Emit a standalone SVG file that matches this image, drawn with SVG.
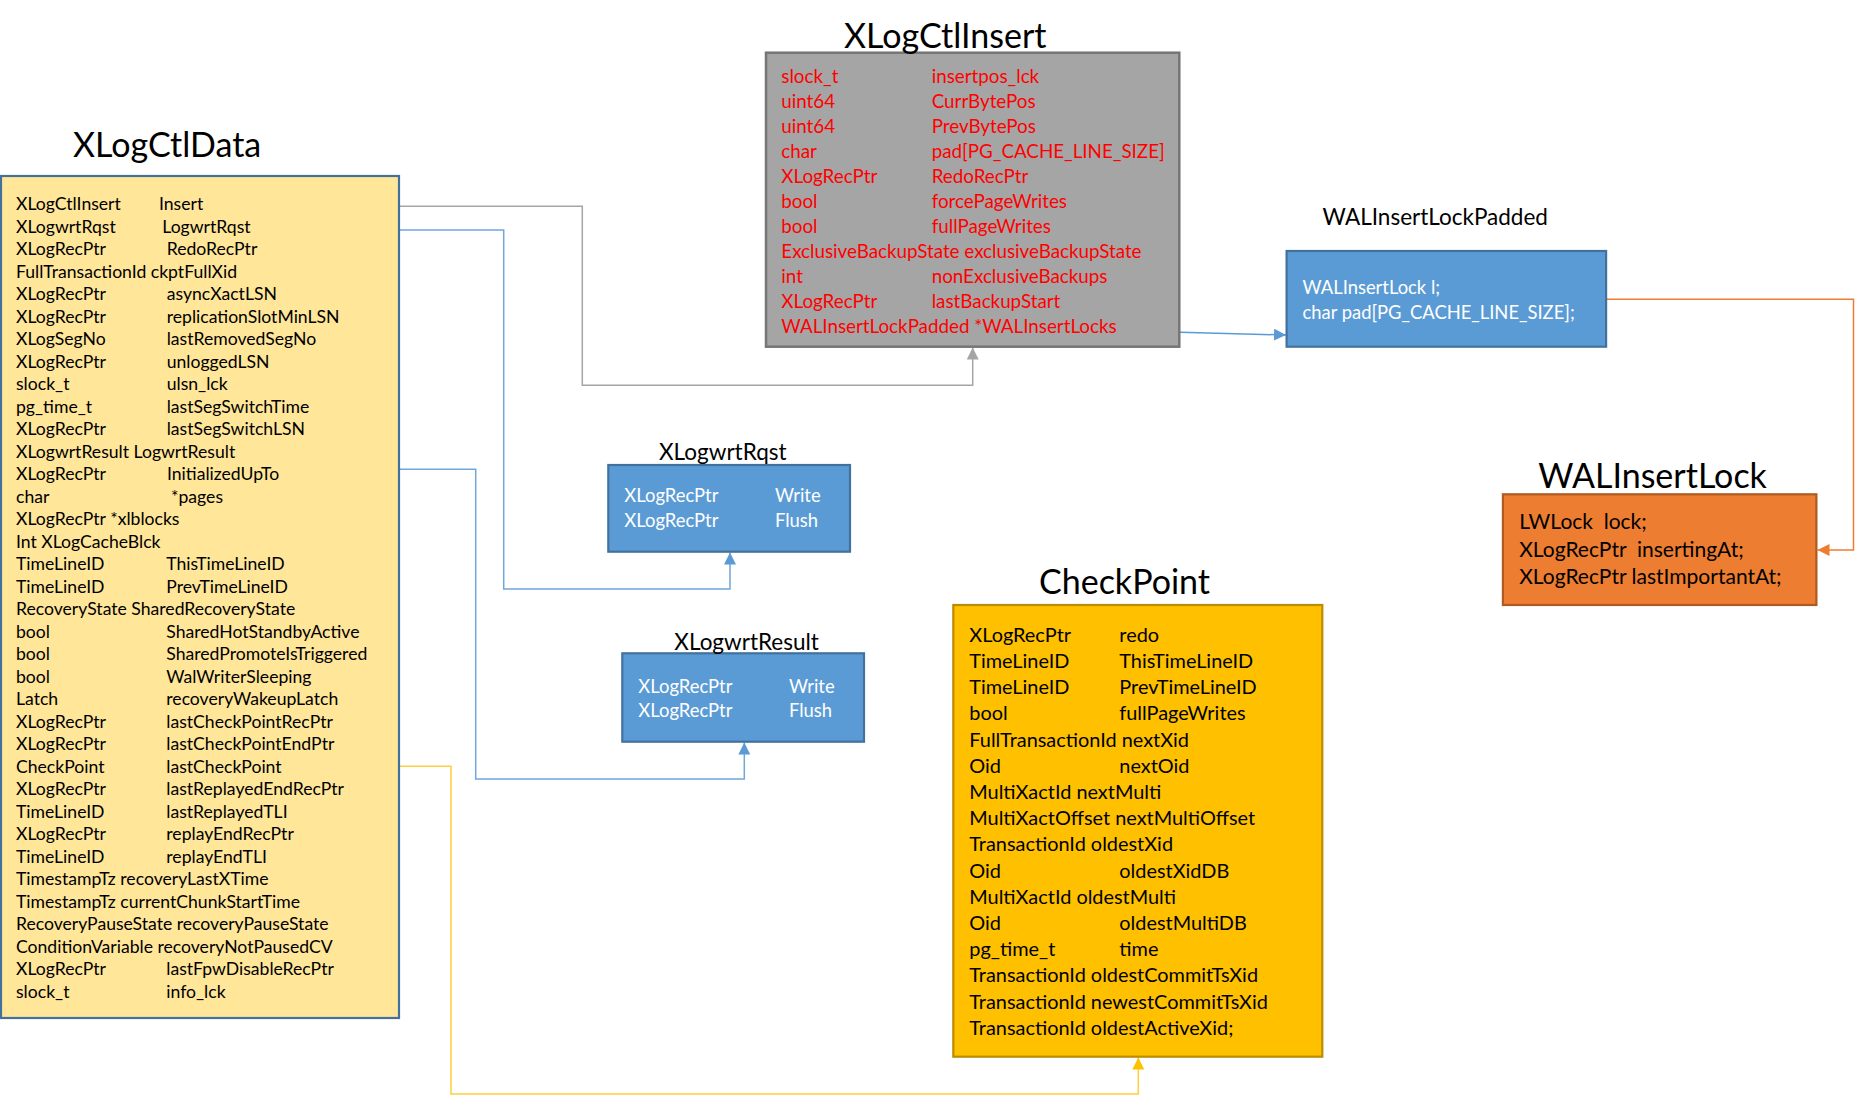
<svg xmlns="http://www.w3.org/2000/svg" width="1855" height="1096" viewBox="0 0 1855 1096">
<style>
text{font-family:Lato,"Liberation Sans",sans-serif;white-space:pre}
.title{font-size:34px;fill:#000}
.sub{font-size:22.5px;fill:#000}
.d{font-size:17.6px;fill:#000}
.r{font-size:18.8px;fill:#FF0000}
.w{font-size:18.4px;fill:#FFFFFF}
.c{font-size:19.9px;fill:#000}
.o{font-size:21px;fill:#000}
.conn{fill:none;stroke-width:1.5}
</style>
<defs>
<marker id="aGray" viewBox="0 0 12 12" refX="12" refY="6" markerWidth="12" markerHeight="12" markerUnits="userSpaceOnUse" orient="auto"><path d="M0,0 L12,6 L0,12 z" fill="#A5A5A5"/></marker>
<marker id="aBlue" viewBox="0 0 12 12" refX="12" refY="6" markerWidth="12" markerHeight="12" markerUnits="userSpaceOnUse" orient="auto"><path d="M0,0 L12,6 L0,12 z" fill="#5B9BD5"/></marker>
<marker id="aYel" viewBox="0 0 12 12" refX="12" refY="6" markerWidth="12" markerHeight="12" markerUnits="userSpaceOnUse" orient="auto"><path d="M0,0 L12,6 L0,12 z" fill="#FFC000"/></marker>
<marker id="aOr" viewBox="0 0 12 12" refX="12" refY="6" markerWidth="12" markerHeight="12" markerUnits="userSpaceOnUse" orient="auto"><path d="M0,0 L12,6 L0,12 z" fill="#ED7D31"/></marker>
</defs>
<rect width="1855" height="1096" fill="#FFFFFF"/>

<g id="connectors">
<path class="conn" d="M399,206.3 H582.3 V385.3 H972.7 V347.5" stroke="#A5A5A5" marker-end="url(#aGray)"/>
<path class="conn" d="M399,230 H503.7 V589 H730 V552.5" stroke="#6FA7DB" marker-end="url(#aBlue)"/>
<path class="conn" d="M399,469.3 H475.7 V779 H744.3 V742.5" stroke="#6FA7DB" marker-end="url(#aBlue)"/>
<path class="conn" d="M399,766.3 H451 V1094 H1138.3 V1057.5" stroke="#FFCF40" marker-end="url(#aYel)"/>
<path class="conn" d="M1180,332.3 L1286,335" stroke="#5B9BD5" marker-end="url(#aBlue)"/>
<path class="conn" d="M1607,299.3 H1853.5 V550 H1817.5" stroke="#ED7D31" marker-end="url(#aOr)"/>
</g>

<g id="XLogCtlData">
<rect x="1" y="176" width="398" height="842" fill="#FFE699" stroke="#41719C" stroke-width="2.2"/>
<text class="title" x="73" y="157">XLogCtlData</text>
<text class="d" x="16" y="210">XLogCtlInsert</text><text class="d" x="159" y="210">Insert</text>
<text class="d" x="16" y="232.5">XLogwrtRqst</text><text class="d" x="162.3" y="232.5">LogwrtRqst</text>
<text class="d" x="16" y="255">XLogRecPtr</text><text class="d" x="166.7" y="255">RedoRecPtr</text>
<text class="d" x="16" y="277.5">FullTransactionId ckptFullXid</text>
<text class="d" x="16" y="300">XLogRecPtr</text><text class="d" x="166.7" y="300">asyncXactLSN</text>
<text class="d" x="16" y="322.5">XLogRecPtr</text><text class="d" x="166.7" y="322.5">replicationSlotMinLSN</text>
<text class="d" x="16" y="345">XLogSegNo</text><text class="d" x="166.7" y="345">lastRemovedSegNo</text>
<text class="d" x="16" y="367.5">XLogRecPtr</text><text class="d" x="166.7" y="367.5">unloggedLSN</text>
<text class="d" x="16" y="390">slock_t</text><text class="d" x="166.7" y="390">ulsn_lck</text>
<text class="d" x="16" y="412.5">pg_time_t</text><text class="d" x="166.7" y="412.5">lastSegSwitchTime</text>
<text class="d" x="16" y="435">XLogRecPtr</text><text class="d" x="166.7" y="435">lastSegSwitchLSN</text>
<text class="d" x="16" y="457.5">XLogwrtResult LogwrtResult</text>
<text class="d" x="16" y="480">XLogRecPtr</text><text class="d" x="167" y="480">InitializedUpTo</text>
<text class="d" x="16" y="502.5">char</text><text class="d" x="171" y="502.5">*pages</text>
<text class="d" x="16" y="525">XLogRecPtr *xlblocks</text>
<text class="d" x="16" y="547.5">Int XLogCacheBlck</text>
<text class="d" x="16" y="570">TimeLineID</text><text class="d" x="166.3" y="570">ThisTimeLineID</text>
<text class="d" x="16" y="592.5">TimeLineID</text><text class="d" x="166.3" y="592.5">PrevTimeLineID</text>
<text class="d" x="16" y="615">RecoveryState SharedRecoveryState</text>
<text class="d" x="16" y="637.5">bool</text><text class="d" x="166.3" y="637.5">SharedHotStandbyActive</text>
<text class="d" x="16" y="660">bool</text><text class="d" x="166.3" y="660">SharedPromoteIsTriggered</text>
<text class="d" x="16" y="682.5">bool</text><text class="d" x="166.3" y="682.5">WalWriterSleeping</text>
<text class="d" x="16" y="705">Latch</text><text class="d" x="166.3" y="705">recoveryWakeupLatch</text>
<text class="d" x="16" y="727.5">XLogRecPtr</text><text class="d" x="166.3" y="727.5">lastCheckPointRecPtr</text>
<text class="d" x="16" y="750">XLogRecPtr</text><text class="d" x="166.3" y="750">lastCheckPointEndPtr</text>
<text class="d" x="16" y="772.5">CheckPoint</text><text class="d" x="166.3" y="772.5">lastCheckPoint</text>
<text class="d" x="16" y="795">XLogRecPtr</text><text class="d" x="166.3" y="795">lastReplayedEndRecPtr</text>
<text class="d" x="16" y="817.5">TimeLineID</text><text class="d" x="166.3" y="817.5">lastReplayedTLI</text>
<text class="d" x="16" y="840">XLogRecPtr</text><text class="d" x="166.3" y="840">replayEndRecPtr</text>
<text class="d" x="16" y="862.5">TimeLineID</text><text class="d" x="166.3" y="862.5">replayEndTLI</text>
<text class="d" x="16" y="885">TimestampTz recoveryLastXTime</text>
<text class="d" x="16" y="907.5">TimestampTz currentChunkStartTime</text>
<text class="d" x="16" y="930">RecoveryPauseState recoveryPauseState</text>
<text class="d" x="16" y="952.5">ConditionVariable recoveryNotPausedCV</text>
<text class="d" x="16" y="975">XLogRecPtr</text><text class="d" x="166.3" y="975">lastFpwDisableRecPtr</text>
<text class="d" x="16" y="997.5">slock_t</text><text class="d" x="166.3" y="997.5">info_lck</text>
</g>

<g id="XLogCtlInsert">
<rect x="766" y="52.7" width="413.3" height="294" fill="#A5A5A5" stroke="#767676" stroke-width="2.5"/>
<text class="title" x="844" y="47.7">XLogCtlInsert</text>
<text class="r" x="781.3" y="82.7">slock_t</text><text class="r" x="931.7" y="82.7">insertpos_lck</text>
<text class="r" x="781.3" y="107.7">uint64</text><text class="r" x="931.7" y="107.7">CurrBytePos</text>
<text class="r" x="781.3" y="132.7">uint64</text><text class="r" x="931.7" y="132.7">PrevBytePos</text>
<text class="r" x="781.3" y="157.7">char</text><text class="r" x="931.7" y="157.7">pad[PG_CACHE_LINE_SIZE]</text>
<text class="r" x="781.3" y="182.7">XLogRecPtr</text><text class="r" x="931.7" y="182.7">RedoRecPtr</text>
<text class="r" x="781.3" y="207.7">bool</text><text class="r" x="931.7" y="207.7">forcePageWrites</text>
<text class="r" x="781.3" y="232.7">bool</text><text class="r" x="931.7" y="232.7">fullPageWrites</text>
<text class="r" x="781.3" y="257.7">ExclusiveBackupState exclusiveBackupState</text>
<text class="r" x="781.3" y="282.7">int</text><text class="r" x="931.7" y="282.7">nonExclusiveBackups</text>
<text class="r" x="781.3" y="307.7">XLogRecPtr</text><text class="r" x="931.7" y="307.7">lastBackupStart</text>
<text class="r" x="781.3" y="332.7">WALInsertLockPadded *WALInsertLocks</text>
</g>

<g id="WALInsertLockPadded">
<rect x="1286.6" y="251" width="319.5" height="95.7" fill="#5B9BD5" stroke="#41719C" stroke-width="2.2"/>
<text class="sub" x="1322.6" y="225">WALInsertLockPadded</text>
<text class="w" x="1302.5" y="294">WALInsertLock l;</text>
<text class="w" x="1302.5" y="319.3">char pad[PG_CACHE_LINE_SIZE];</text>
</g>

<g id="WALInsertLock">
<rect x="1502.9" y="494.3" width="313.5" height="110.7" fill="#ED7D31" stroke="#AE5A21" stroke-width="2.2"/>
<text class="title" x="1538.2" y="487.7">WALInsertLock</text>
<text class="o" x="1519.2" y="529.3">LWLock  lock;</text>
<text class="o" x="1519.2" y="557.3">XLogRecPtr  insertingAt;</text>
<text class="o" x="1519.2" y="584.3">XLogRecPtr lastImportantAt;</text>
</g>

<g id="XLogwrtRqst">
<rect x="608.3" y="465" width="241.7" height="86.7" fill="#5B9BD5" stroke="#41719C" stroke-width="2.2"/>
<text class="sub" x="659" y="460">XLogwrtRqst</text>
<text class="w" x="624.3" y="502.3">XLogRecPtr</text><text class="w" x="775" y="502.3">Write</text>
<text class="w" x="624.3" y="527.3">XLogRecPtr</text><text class="w" x="775" y="527.3">Flush</text>
</g>

<g id="XLogwrtResult">
<rect x="622.3" y="653.3" width="241.7" height="88.4" fill="#5B9BD5" stroke="#41719C" stroke-width="2.2"/>
<text class="sub" x="674.3" y="650">XLogwrtResult</text>
<text class="w" x="638.3" y="692.7">XLogRecPtr</text><text class="w" x="789" y="692.7">Write</text>
<text class="w" x="638.3" y="717.3">XLogRecPtr</text><text class="w" x="789" y="717.3">Flush</text>
</g>

<g id="CheckPoint">
<rect x="953.3" y="605" width="369" height="451.7" fill="#FFC000" stroke="#BC8C00" stroke-width="2.2"/>
<text class="title" x="1039" y="594.3">CheckPoint</text>
<text class="c" x="969.3" y="641.7">XLogRecPtr</text><text class="c" x="1119.3" y="641.7">redo</text>
<text class="c" x="969.3" y="667.9">TimeLineID</text><text class="c" x="1119.3" y="667.9">ThisTimeLineID</text>
<text class="c" x="969.3" y="694.1">TimeLineID</text><text class="c" x="1119.3" y="694.1">PrevTimeLineID</text>
<text class="c" x="969.3" y="720.3">bool</text><text class="c" x="1119.3" y="720.3">fullPageWrites</text>
<text class="c" x="969.3" y="746.5">FullTransactionId nextXid</text>
<text class="c" x="969.3" y="772.7">Oid</text><text class="c" x="1119.3" y="772.7">nextOid</text>
<text class="c" x="969.3" y="798.9">MultiXactId nextMulti</text>
<text class="c" x="969.3" y="825.1">MultiXactOffset nextMultiOffset</text>
<text class="c" x="969.3" y="851.3">TransactionId oldestXid</text>
<text class="c" x="969.3" y="877.5">Oid</text><text class="c" x="1119.3" y="877.5">oldestXidDB</text>
<text class="c" x="969.3" y="903.7">MultiXactId oldestMulti</text>
<text class="c" x="969.3" y="929.9">Oid</text><text class="c" x="1119.3" y="929.9">oldestMultiDB</text>
<text class="c" x="969.3" y="956.1">pg_time_t</text><text class="c" x="1119.3" y="956.1">time</text>
<text class="c" x="969.3" y="982.3">TransactionId oldestCommitTsXid</text>
<text class="c" x="969.3" y="1008.5">TransactionId newestCommitTsXid</text>
<text class="c" x="969.3" y="1034.7">TransactionId oldestActiveXid;</text>
</g>
</svg>
